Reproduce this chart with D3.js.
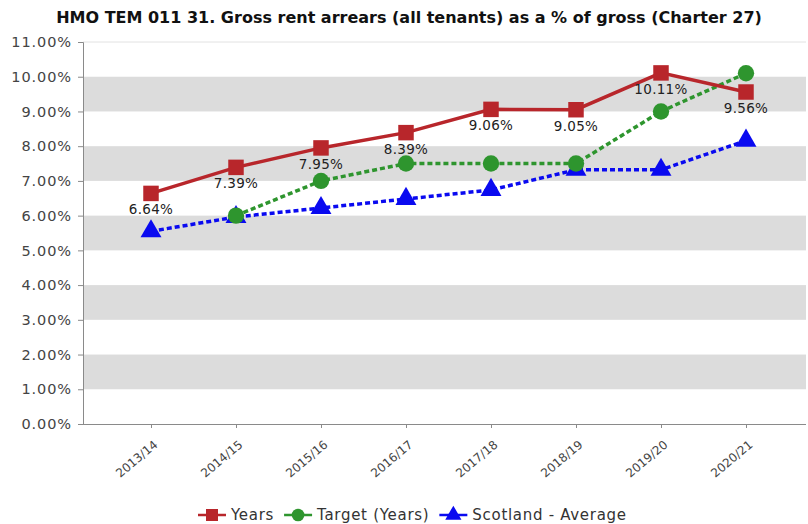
<!DOCTYPE html>
<html>
<head>
<meta charset="utf-8">
<script src="https://cdn.jsdelivr.net/npm/d3@7"></script>
<style>
  html, body { margin: 0; padding: 0; background: #fff; }
  svg { display: block; }
</style>
</head>
<body>
<svg id="chart" width="808" height="524"></svg>
<script>
// Reporting years
const years = ["2013/14", "2014/15", "2015/16", "2016/17", "2017/18", "2018/19", "2019/20", "2020/21"];
// Gross rent arrears as % of gross rent due
const actual = [6.64, 7.39, 7.95, 8.39, 9.06, 9.05, 10.11, 9.56];
const target = [null, 6.0, 7.0, 7.5, 7.5, 7.5, 9.0, 10.1];
const scotland = [5.55, 5.96, 6.22, 6.48, 6.74, 7.32, 7.32, 8.16];
// Y axis ticks (percent)
const yTicks = [0, 1, 2, 3, 4, 5, 6, 7, 8, 9, 10, 11];
const titleText = "HMO TEM 011 31. Gross rent arrears (all tenants) as a % of gross (Charter 27)";

const svg = d3.select("#chart");
const plot = { left: 83, right: 806, top: 42, bottom: 424 };
const bodyFont = "Verdana, 'DejaVu Sans', sans-serif";

const x = d3.scalePoint().domain(years).range([plot.left + 68, plot.right - 60]);
const y = d3.scaleLinear().domain([0, 11]).range([plot.bottom, plot.top]);

// Alternating grey bands
const bands = yTicks.filter(t => t < 11 && t % 2 === 1);
svg.append("g").selectAll("rect").data(bands).join("rect")
  .attr("x", plot.left).attr("width", plot.right - plot.left)
  .attr("y", d => y(d + 1)).attr("height", d => y(d) - y(d + 1))
  .attr("fill", "#dcdcdc");

// Top border of plot
svg.append("line").attr("x1", plot.left).attr("x2", plot.right)
  .attr("y1", y(11)).attr("y2", y(11)).attr("stroke", "#e2e2e2");

// Y axis
const yAxis = svg.append("g").attr("transform", `translate(${plot.left},0)`)
  .call(d3.axisLeft(y).tickValues(yTicks).tickSize(5).tickPadding(6).tickFormat(d => d.toFixed(2) + "%"));
yAxis.select(".domain").attr("stroke", "#8a8a8a");
yAxis.selectAll(".tick line").attr("stroke", "#8a8a8a");
yAxis.selectAll("text").attr("fill", "#444")
  .style("font-family", bodyFont).style("font-size", "14.5px").style("letter-spacing", "0.9px");

// X axis
const xAxis = svg.append("g").attr("transform", `translate(0,${plot.bottom})`)
  .call(d3.axisBottom(x).tickSize(4).tickSizeOuter(0));
xAxis.select(".domain").attr("d", `M${plot.left},0.5H${plot.right}`).attr("stroke", "#8a8a8a");
xAxis.selectAll(".tick line").attr("stroke", "#8a8a8a");
xAxis.selectAll("text")
  .attr("fill", "#444")
  .style("font-family", bodyFont).style("font-size", "12px")
  .attr("text-anchor", "end").attr("y", 0).attr("dy", 0)
  .attr("transform", "translate(7,22) rotate(-40)");

// Title
svg.append("text").attr("x", 409).attr("y", 23).attr("text-anchor", "middle")
  .style("font-family", "'DejaVu Sans', sans-serif")
  .style("font-weight", "bold").style("font-size", "16px").attr("fill", "#111")
  .text(titleText);

const series = [
  { name: "Years", values: actual, color: "#b8262b", dash: null, symbol: d3.symbolSquare, size: 240 },
  { name: "Target (Years)", values: target, color: "#2e952e", dash: "5,3", symbol: d3.symbolCircle, size: 210 },
  { name: "Scotland - Average", values: scotland, color: "#0a0af0", dash: "5,3", symbol: d3.symbolTriangle, size: 190 }
];

const line = d3.line()
  .defined(d => d.v != null)
  .x(d => x(d.year)).y(d => y(d.v));

// Draw in reverse so the actuals sit on top
[...series].reverse().forEach(s => {
  const pts = years.map((yr, i) => ({ year: yr, v: s.values[i] }));
  svg.append("path").datum(pts).attr("d", line)
    .attr("fill", "none").attr("stroke", s.color).attr("stroke-width", 3.5)
    .attr("stroke-dasharray", s.dash);
  svg.append("g").selectAll("path").data(pts.filter(p => p.v != null)).join("path")
    .attr("transform", p => `translate(${x(p.year)},${y(p.v)})`)
    .attr("d", d3.symbol().type(s.symbol).size(s.size))
    .attr("fill", s.color);
});

// Value labels for the actuals
svg.append("g").selectAll("text").data(years.map((yr, i) => ({ year: yr, v: actual[i] }))).join("text")
  .attr("x", p => x(p.year)).attr("y", p => y(p.v) + 21)
  .attr("text-anchor", "middle")
  .style("font-family", bodyFont).style("font-size", "13.5px").style("letter-spacing", "0.3px")
  .attr("fill", "#222")
  .text(p => p.v.toFixed(2) + "%");

// Legend
const legendY = 515;
const legend = svg.append("g");
let lx = 198;
series.forEach(s => {
  const g = legend.append("g").attr("transform", `translate(${lx},${legendY})`);
  g.append("line").attr("x1", 0).attr("x2", 28).attr("y1", 0).attr("y2", 0)
    .attr("stroke", s.color).attr("stroke-width", 2.5);
  g.append("path").attr("transform", "translate(14,0)")
    .attr("d", d3.symbol().type(s.symbol).size(s.size * 0.6)).attr("fill", s.color);
  const t = g.append("text").attr("x", 33).attr("y", 0).attr("dy", "0.35em")
    .style("font-family", bodyFont).style("font-size", "15px").style("letter-spacing", "0.7px")
    .attr("fill", "#333").text(s.name);
  lx += 33 + t.node().getComputedTextLength() + 10;
});
</script>
</body>
</html>
